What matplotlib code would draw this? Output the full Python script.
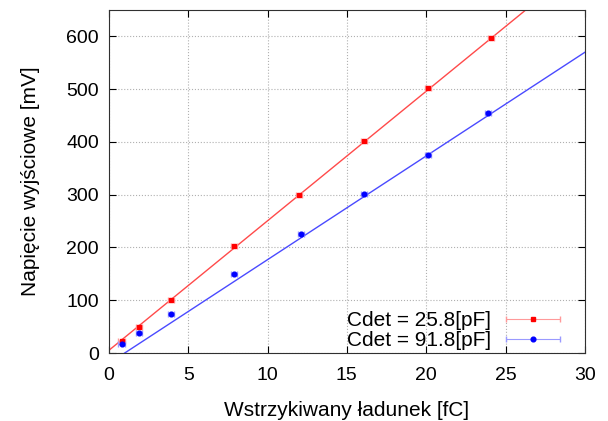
import matplotlib.pyplot as plt
from matplotlib.legend_handler import HandlerErrorbar
from matplotlib.container import ErrorbarContainer
import numpy as np

plt.rcParams['font.family'] = ['Liberation Sans', 'DejaVu Sans']

# dane pomiarowe
q_red = [0.8, 1.9, 3.9, 7.9, 12.0, 16.1, 20.1, 24.1]
u_red = [22, 50, 100, 203, 300, 401, 503, 597]
q_blue = [0.8, 1.9, 3.9, 7.9, 12.1, 16.1, 20.1, 23.9]
u_blue = [18, 37, 74, 149, 226, 301, 376, 455]
xerr = 0.2

# parametry dopasowania (a*x + b)
fit_red = (24.56, 5.0)
fit_blue = (19.66, -19.7)

labels = ['Cdet = 25.8[pF]', 'Cdet = 91.8[pF]']

fig = plt.figure(figsize=(6.08, 4.21), dpi=100)
ax = fig.add_axes([0.179, 0.1615, 0.783, 0.8145])

xx = np.array([0, 30])
ax.plot(xx, fit_red[0] * xx + fit_red[1], color='#ff4a4a', lw=1)
ax.plot(xx, fit_blue[0] * xx + fit_blue[1], color='#4a4aff', lw=1)

ax.errorbar(q_red, u_red, xerr=xerr, fmt='s', color='red', ms=3.2,
            ecolor='#ff9a9a', elinewidth=0.8, capsize=2.5, label=labels[0])
ax.errorbar(q_blue, u_blue, xerr=xerr, fmt='o', color='blue', ms=3.4,
            ecolor='#9a9aff', elinewidth=0.8, capsize=2.5, label=labels[1])

ax.set_xlim(0, 30)
ax.set_ylim(0, 650)
ax.set_xticks(range(0, 31, 5))
ax.set_yticks(range(0, 601, 100))
ax.tick_params(direction='in', top=True, right=True, labelsize=14, length=5, pad=7)
ax.tick_params(axis='x', pad=10)
ax.grid(True, linestyle=':', color='#b0b0b0', lw=0.8)
for s in ax.spines.values():
    s.set_color('#303030')

ax.set_xlabel('Wstrzykiwany ładunek [fC]', fontsize=15, labelpad=12)
ax.set_ylabel('Napięcie wyjściowe [mV]', fontsize=15, labelpad=19)

ax.legend(loc='lower right', bbox_to_anchor=(0.983, -0.035),
          markerfirst=False, frameon=False, fontsize=15,
          handlelength=2.8, handletextpad=0.6, borderaxespad=0.3,
          labelspacing=0.05,
          handler_map={ErrorbarContainer: HandlerErrorbar(xerr_size=1.3)})

fig.savefig('out.png', dpi=100)
